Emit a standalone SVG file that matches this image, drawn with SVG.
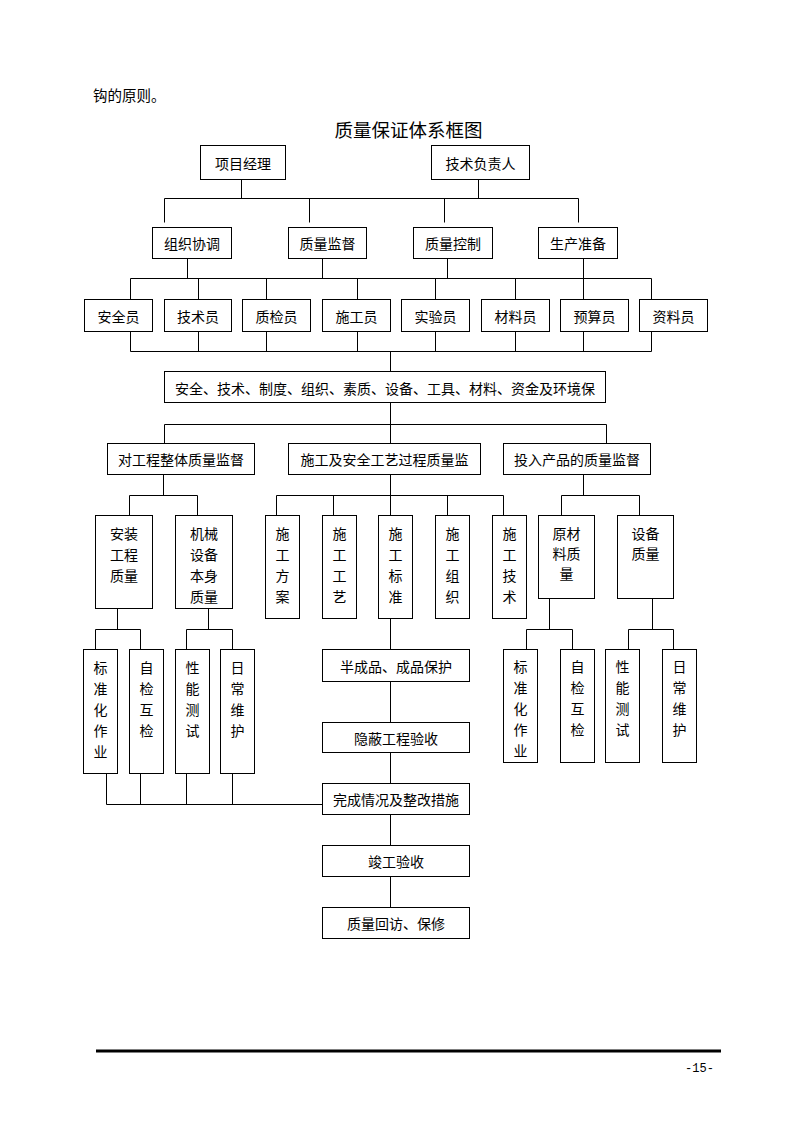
<svg xmlns="http://www.w3.org/2000/svg" width="794" height="1123" viewBox="0 0 794 1123">
<style>
.b{fill:#fff;stroke:#000;stroke-width:1}
.t{font-family:"Noto Sans CJK SC","Noto Sans",sans-serif;font-size:14px;fill:#000;text-anchor:middle;dominant-baseline:central}
.c path{stroke:#000;stroke-width:1;fill:none}
</style>
<rect width="794" height="1123" fill="#fff"/>
<text x="93" y="94" class="t" style="text-anchor:start;font-size:14.5px">钩的原则。</text>
<text x="408.5" y="129" class="t" style="font-size:18.5px">质量保证体系框图</text>
<g class="c" id="connectors">
<path d="M241.5 179.5V198.5M478.5 179.5V198.5M164.5 198.5H578.5M164.5 198.5V222.5M309.5 198.5V222.5M444.5 198.5V222.5M578.5 198.5V222.5"/>
<path d="M187.5 258.5V278.5M322.5 258.5V278.5M447.5 258.5V278.5M583.5 258.5V278.5M130.5 278.5H651.5"/>
<path d="M130.5 278.5V299.5M198.5 278.5V299.5M266.5 278.5V299.5M357.5 278.5V299.5M435.5 278.5V299.5M515.5 278.5V299.5M583.5 278.5V299.5M651.5 278.5V299.5"/>
<path d="M130.5 331.5V351.5M198.5 331.5V351.5M266.5 331.5V351.5M357.5 331.5V351.5M435.5 331.5V351.5M515.5 331.5V351.5M583.5 331.5V351.5M651.5 331.5V351.5M130.5 351.5H651.5"/>
<path d="M390.5 351.5V371.5M390.5 402.5V443.5M164.5 424.5H606.5M164.5 424.5V443.5M606.5 424.5V443.5"/>
<path d="M163.5 474.5V495.5M129.5 495.5H197.5M129.5 495.5V515.5M197.5 495.5V515.5"/>
<path d="M390.5 474.5V515.5M276.5 495.5H503.5M276.5 495.5V515.5M333.5 495.5V515.5M447.5 495.5V515.5M503.5 495.5V515.5"/>
<path d="M583.5 474.5V495.5M561.5 495.5H639.5M561.5 495.5V515.5M639.5 495.5V515.5"/>
<path d="M117.5 608.5V629.5M95.5 629.5H140.5M95.5 629.5V649.5M140.5 629.5V649.5"/>
<path d="M208.5 608.5V629.5M186.5 629.5H232.5M186.5 629.5V649.5M232.5 629.5V649.5"/>
<path d="M390.5 618.5V649.5M390.5 681.5V722.5M390.5 752.5V783.5M390.5 814.5V845.5M390.5 876.5V907.5"/>
<path d="M106.5 773.5V804.5M140.5 773.5V804.5M186.5 773.5V804.5M232.5 773.5V804.5M106.5 804.5H322.5"/>
<path d="M549.5 598.5V629.5M526.5 629.5H572.5M526.5 629.5V649.5M572.5 629.5V649.5"/>
<path d="M652.5 598.5V629.5M628.5 629.5H673.5M628.5 629.5V649.5M673.5 629.5V649.5"/>
</g>
<g id="n_xmjl"><rect class="b" x="200.5" y="145.5" width="85" height="34"/><text class="t" x="243" y="162.5">项目经理</text></g>
<g id="n_jsfzr"><rect class="b" x="431.5" y="145.5" width="98" height="34"/><text class="t" x="480.5" y="162.5">技术负责人</text></g>
<g id="n_zzxt"><rect class="b" x="152.5" y="227.5" width="79" height="31"/><text class="t" x="192" y="243">组织协调</text></g>
<g id="n_zljd"><rect class="b" x="288.5" y="227.5" width="78" height="31"/><text class="t" x="327.5" y="243">质量监督</text></g>
<g id="n_zlkz"><rect class="b" x="413.5" y="227.5" width="79" height="31"/><text class="t" x="453" y="243">质量控制</text></g>
<g id="n_sczb"><rect class="b" x="538.5" y="227.5" width="79" height="31"/><text class="t" x="578" y="243">生产准备</text></g>
<g id="n_aqy"><rect class="b" x="84.5" y="299.5" width="68" height="32"/><text class="t" x="118.5" y="315.5">安全员</text></g>
<g id="n_jsy"><rect class="b" x="164.5" y="299.5" width="67" height="32"/><text class="t" x="198" y="315.5">技术员</text></g>
<g id="n_zjy"><rect class="b" x="242.5" y="299.5" width="68" height="32"/><text class="t" x="276.5" y="315.5">质检员</text></g>
<g id="n_sgy"><rect class="b" x="322.5" y="299.5" width="68" height="32"/><text class="t" x="356.5" y="315.5">施工员</text></g>
<g id="n_syy"><rect class="b" x="401.5" y="299.5" width="68" height="32"/><text class="t" x="435.5" y="315.5">实验员</text></g>
<g id="n_cly"><rect class="b" x="481.5" y="299.5" width="68" height="32"/><text class="t" x="515.5" y="315.5">材料员</text></g>
<g id="n_ysy"><rect class="b" x="560.5" y="299.5" width="68" height="32"/><text class="t" x="594.5" y="315.5">预算员</text></g>
<g id="n_zly"><rect class="b" x="639.5" y="299.5" width="68" height="32"/><text class="t" x="673.5" y="315.5">资料员</text></g>
<g id="n_big"><rect class="b" x="164.5" y="371.5" width="441" height="31"/><text class="t" x="385" y="387.5">安全、技术、制度、组织、素质、设备、工具、材料、资金及环境保</text></g>
<g id="n_dgc"><rect class="b" x="107.5" y="443.5" width="147" height="31"/><text class="t" x="181" y="459">对工程整体质量监督</text></g>
<g id="n_sgj"><rect class="b" x="288.5" y="443.5" width="192" height="31"/><text class="t" x="384.5" y="459">施工及安全工艺过程质量监</text></g>
<g id="n_trcp"><rect class="b" x="503.5" y="443.5" width="147" height="31"/><text class="t" x="577" y="459">投入产品的质量监督</text></g>
<g id="n_azgc"><rect class="b" x="95.5" y="515.5" width="57" height="93"/><text class="t"><tspan x="124" y="533">安装</tspan><tspan x="124" y="554">工程</tspan><tspan x="124" y="575">质量</tspan></text></g>
<g id="n_jxsb"><rect class="b" x="175.5" y="515.5" width="57" height="93"/><text class="t"><tspan x="204" y="533">机械</tspan><tspan x="204" y="554">设备</tspan><tspan x="204" y="575">本身</tspan><tspan x="204" y="596">质量</tspan></text></g>
<g id="n_sgfa"><rect class="b" x="265.5" y="515.5" width="34" height="103"/><text class="t"><tspan x="282.5" y="533">施</tspan><tspan x="282.5" y="554">工</tspan><tspan x="282.5" y="575">方</tspan><tspan x="282.5" y="596">案</tspan></text></g>
<g id="n_sggy"><rect class="b" x="322.5" y="515.5" width="34" height="103"/><text class="t"><tspan x="339.5" y="533">施</tspan><tspan x="339.5" y="554">工</tspan><tspan x="339.5" y="575">工</tspan><tspan x="339.5" y="596">艺</tspan></text></g>
<g id="n_sgbz"><rect class="b" x="378.5" y="515.5" width="34" height="103"/><text class="t"><tspan x="395.5" y="533">施</tspan><tspan x="395.5" y="554">工</tspan><tspan x="395.5" y="575">标</tspan><tspan x="395.5" y="596">准</tspan></text></g>
<g id="n_sgzz"><rect class="b" x="435.5" y="515.5" width="34" height="103"/><text class="t"><tspan x="452.5" y="533">施</tspan><tspan x="452.5" y="554">工</tspan><tspan x="452.5" y="575">组</tspan><tspan x="452.5" y="596">织</tspan></text></g>
<g id="n_sgjs"><rect class="b" x="492.5" y="515.5" width="34" height="103"/><text class="t"><tspan x="509.5" y="533">施</tspan><tspan x="509.5" y="554">工</tspan><tspan x="509.5" y="575">技</tspan><tspan x="509.5" y="596">术</tspan></text></g>
<g id="n_ycl"><rect class="b" x="538.5" y="515.5" width="56" height="83"/><text class="t"><tspan x="566.5" y="533">原材</tspan><tspan x="566.5" y="553">料质</tspan><tspan x="566.5" y="573">量</tspan></text></g>
<g id="n_sbzl"><rect class="b" x="617.5" y="515.5" width="56" height="83"/><text class="t"><tspan x="645.5" y="533">设备</tspan><tspan x="645.5" y="553">质量</tspan></text></g>
<g id="n_bzh_l"><rect class="b" x="83.5" y="649.5" width="34" height="124"/><text class="t"><tspan x="100.5" y="667">标</tspan><tspan x="100.5" y="688">准</tspan><tspan x="100.5" y="709">化</tspan><tspan x="100.5" y="730">作</tspan><tspan x="100.5" y="751">业</tspan></text></g>
<g id="n_zjhj_l"><rect class="b" x="129.5" y="649.5" width="34" height="124"/><text class="t"><tspan x="146.5" y="667">自</tspan><tspan x="146.5" y="688">检</tspan><tspan x="146.5" y="709">互</tspan><tspan x="146.5" y="730">检</tspan></text></g>
<g id="n_xncs_l"><rect class="b" x="175.5" y="649.5" width="34" height="124"/><text class="t"><tspan x="192.5" y="667">性</tspan><tspan x="192.5" y="688">能</tspan><tspan x="192.5" y="709">测</tspan><tspan x="192.5" y="730">试</tspan></text></g>
<g id="n_rcwh_l"><rect class="b" x="220.5" y="649.5" width="34" height="124"/><text class="t"><tspan x="237.5" y="667">日</tspan><tspan x="237.5" y="688">常</tspan><tspan x="237.5" y="709">维</tspan><tspan x="237.5" y="730">护</tspan></text></g>
<g id="n_bzh_r"><rect class="b" x="503.5" y="649.5" width="34" height="113"/><text class="t"><tspan x="520.5" y="666">标</tspan><tspan x="520.5" y="687">准</tspan><tspan x="520.5" y="708">化</tspan><tspan x="520.5" y="729">作</tspan><tspan x="520.5" y="750">业</tspan></text></g>
<g id="n_zjhj_r"><rect class="b" x="560.5" y="649.5" width="34" height="113"/><text class="t"><tspan x="577.5" y="666">自</tspan><tspan x="577.5" y="687">检</tspan><tspan x="577.5" y="708">互</tspan><tspan x="577.5" y="729">检</tspan></text></g>
<g id="n_xncs_r"><rect class="b" x="605.5" y="649.5" width="34" height="113"/><text class="t"><tspan x="622.5" y="666">性</tspan><tspan x="622.5" y="687">能</tspan><tspan x="622.5" y="708">测</tspan><tspan x="622.5" y="729">试</tspan></text></g>
<g id="n_rcwh_r"><rect class="b" x="662.5" y="649.5" width="34" height="113"/><text class="t"><tspan x="679.5" y="666">日</tspan><tspan x="679.5" y="687">常</tspan><tspan x="679.5" y="708">维</tspan><tspan x="679.5" y="729">护</tspan></text></g>
<g id="n_bcp"><rect class="b" x="322.5" y="649.5" width="147" height="32"/><text class="t" x="396" y="665.5">半成品、成品保护</text></g>
<g id="n_yb"><rect class="b" x="322.5" y="722.5" width="147" height="30"/><text class="t" x="396" y="737.5">隐蔽工程验收</text></g>
<g id="n_wc"><rect class="b" x="322.5" y="783.5" width="147" height="31"/><text class="t" x="396" y="799">完成情况及整改措施</text></g>
<g id="n_jg"><rect class="b" x="322.5" y="845.5" width="147" height="31"/><text class="t" x="396" y="861">竣工验收</text></g>
<g id="n_hf"><rect class="b" x="322.5" y="907.5" width="147" height="31"/><text class="t" x="396" y="923">质量回访、保修</text></g>
<rect x="96" y="1049.5" width="625" height="3" fill="#000"/>
<text x="699.5" y="1069" style="font-family:'Liberation Mono',monospace;font-size:12px;text-anchor:middle;dominant-baseline:central">-15-</text>
</svg>
